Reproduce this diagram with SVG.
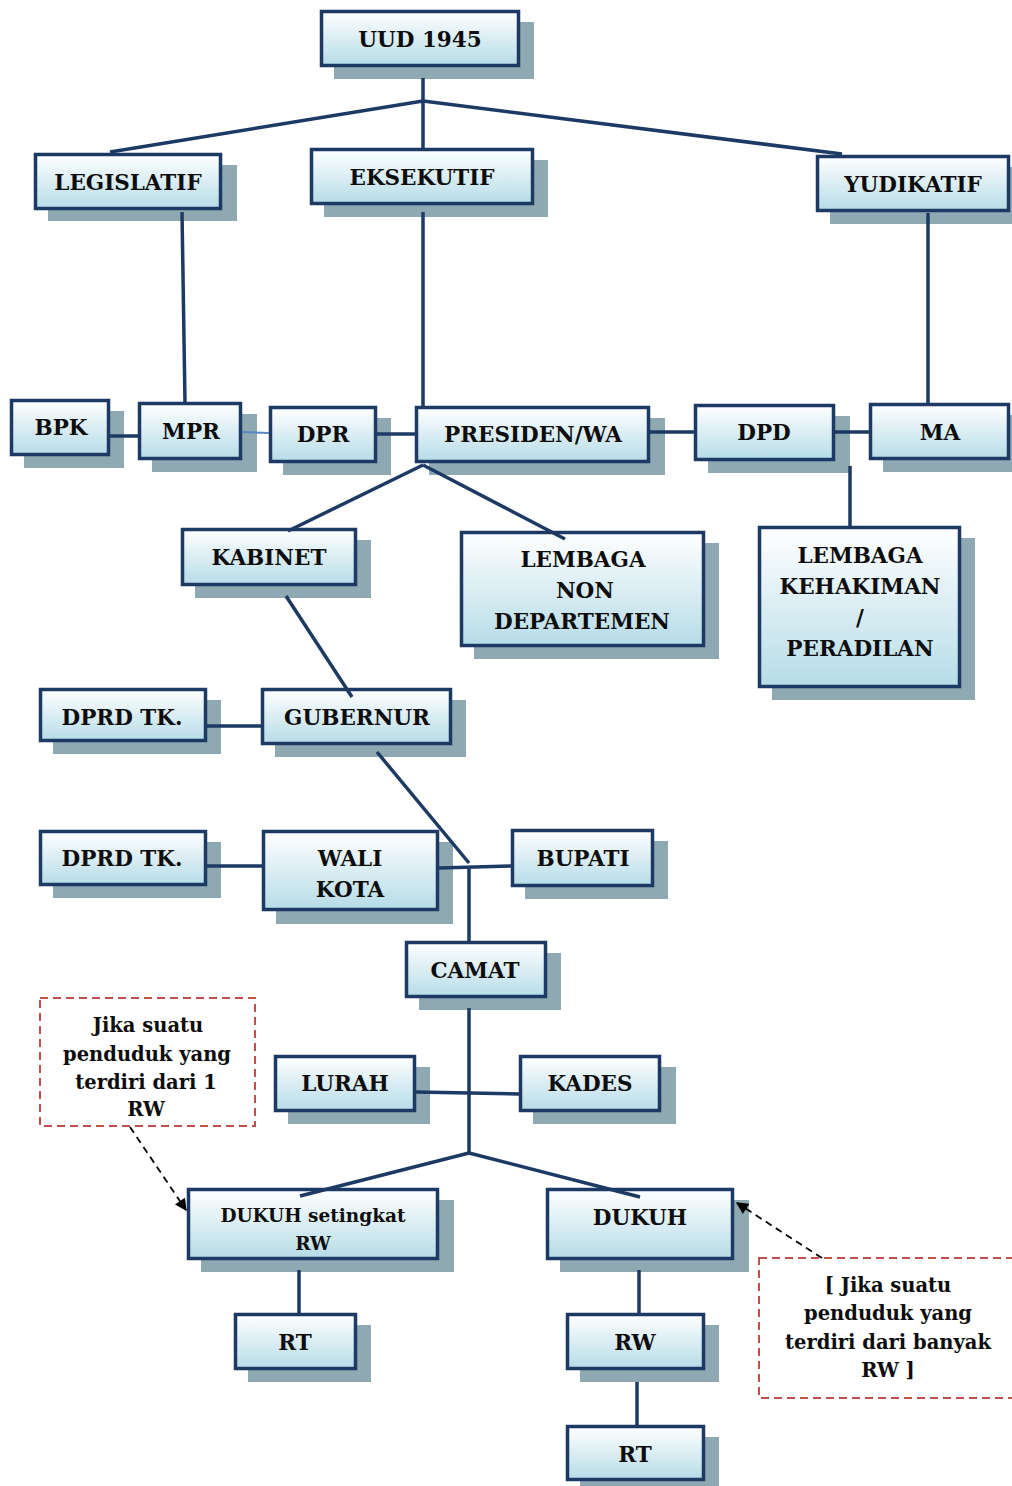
<svg xmlns="http://www.w3.org/2000/svg" width="1012" height="1486" viewBox="0 0 1012 1486">
<defs>
<linearGradient id="gr" x1="0" y1="0" x2="0" y2="1">
<stop offset="0" stop-color="#ffffff"/>
<stop offset="1" stop-color="#b6dce7"/>
</linearGradient>
<marker id="ah" viewBox="0 0 10 10" refX="9" refY="5" markerWidth="13" markerHeight="12" orient="auto" markerUnits="userSpaceOnUse">
<path d="M0,0 L10,5 L0,10 z" fill="#000"/>
</marker>
</defs>
<style>
.sh{fill:#8fa9b2}
.bx{fill:url(#gr);stroke:#1c3a64;stroke-width:3.5}
.t{font-family:"DejaVu Serif","Liberation Serif",serif;font-weight:bold;font-size:21.5px;fill:#0d0d0d;text-anchor:middle}
.s{font-size:18.5px}
.n{font-size:19.5px}
.c{stroke:#1c3a64;stroke-width:3.5;fill:none}
.dbox{fill:none;stroke:#c0504d;stroke-width:2;stroke-dasharray:8 5}
.da{stroke:#000;stroke-width:1.8;stroke-dasharray:7 5;fill:none}
</style>
<rect width="1012" height="1486" fill="#fff"/>

<g id="uud"><rect class="sh" x="334" y="22" width="200" height="57"/><rect class="bx" x="321.5" y="11.5" width="197" height="54"/><text class="t" x="420" y="47">UUD 1945</text></g>
<g id="legislatif"><rect class="sh" x="48" y="165" width="189" height="56"/><rect class="bx" x="35.5" y="154.5" width="185" height="54"/><text class="t" x="128" y="190">LEGISLATIF</text></g>
<g id="eksekutif"><rect class="sh" x="324" y="160" width="224" height="57"/><rect class="bx" x="311.5" y="149.5" width="221" height="54"/><text class="t" x="422" y="185">EKSEKUTIF</text></g>
<g id="yudikatif"><rect class="sh" x="830" y="167" width="182" height="57"/><rect class="bx" x="817.5" y="156.5" width="191" height="54"/><text class="t" x="913" y="192">YUDIKATIF</text></g>

<g id="bpk"><rect class="sh" x="24" y="411" width="100" height="57"/><rect class="bx" x="11.5" y="400.5" width="97" height="54"/><text class="t" x="61" y="435">BPK</text></g>
<g id="mpr"><rect class="sh" x="152" y="414" width="105" height="58"/><rect class="bx" x="139.5" y="403.5" width="101" height="55"/><text class="t" x="191" y="439">MPR</text></g>
<g id="dpr"><rect class="sh" x="283" y="418" width="108" height="57"/><rect class="bx" x="270.5" y="407.5" width="105" height="54"/><text class="t" x="323" y="442">DPR</text></g>
<g id="presiden"><rect class="sh" x="429" y="418" width="236" height="57"/><rect class="bx" x="416.5" y="407.5" width="232" height="54"/><text class="t" x="533" y="442">PRESIDEN/WA</text></g>
<g id="dpd"><rect class="sh" x="708" y="416" width="142" height="57"/><rect class="bx" x="695.5" y="405.5" width="138" height="54"/><text class="t" x="764" y="440">DPD</text></g>
<g id="ma"><rect class="sh" x="883" y="415" width="129" height="57"/><rect class="bx" x="870.5" y="404.5" width="138" height="54"/><text class="t" x="940" y="440">MA</text></g>

<g id="kabinet"><rect class="sh" x="195" y="540" width="176" height="58"/><rect class="bx" x="182.5" y="529.5" width="173" height="55"/><text class="t" x="269" y="565">KABINET</text></g>
<g id="lembaga-non"><rect class="sh" x="474" y="543" width="245" height="116"/><rect class="bx" x="461.5" y="532.5" width="242" height="113"/><text class="t" x="583" y="567">LEMBAGA</text><text class="t" x="585" y="598">NON</text><text class="t" x="582" y="629">DEPARTEMEN</text></g>
<g id="lembaga-kehakiman"><rect class="sh" x="772" y="538" width="203" height="162"/><rect class="bx" x="759.5" y="527.5" width="200" height="159"/><text class="t" x="860" y="563">LEMBAGA</text><text class="t" x="860" y="594">KEHAKIMAN</text><text class="t" x="860" y="625">/</text><text class="t" x="860" y="656">PERADILAN</text></g>

<g id="dprd1"><rect class="sh" x="53" y="700" width="168" height="54"/><rect class="bx" x="40.5" y="689.5" width="165" height="51"/><text class="t" x="122" y="725">DPRD TK.</text></g>
<g id="gubernur"><rect class="sh" x="275" y="700" width="191" height="57"/><rect class="bx" x="262.5" y="689.5" width="188" height="54"/><text class="t" x="357" y="725">GUBERNUR</text></g>
<g id="dprd2"><rect class="sh" x="53" y="842" width="168" height="56"/><rect class="bx" x="40.5" y="831.5" width="165" height="53"/><text class="t" x="122" y="866">DPRD TK.</text></g>
<g id="walikota"><rect class="sh" x="276" y="842" width="177" height="82"/><rect class="bx" x="263.5" y="831.5" width="174" height="78"/><text class="t" x="350" y="866">WALI</text><text class="t" x="350" y="897">KOTA</text></g>
<g id="bupati"><rect class="sh" x="525" y="841" width="143" height="58"/><rect class="bx" x="512.5" y="830.5" width="140" height="55"/><text class="t" x="583" y="866">BUPATI</text></g>
<g id="camat"><rect class="sh" x="419" y="953" width="142" height="57"/><rect class="bx" x="406.5" y="942.5" width="139" height="54"/><text class="t" x="475" y="978">CAMAT</text></g>
<g id="lurah"><rect class="sh" x="288" y="1067" width="142" height="57"/><rect class="bx" x="275.5" y="1056.5" width="139" height="54"/><text class="t" x="345" y="1091">LURAH</text></g>
<g id="kades"><rect class="sh" x="533" y="1067" width="143" height="57"/><rect class="bx" x="520.5" y="1056.5" width="139" height="54"/><text class="t" x="590" y="1091">KADES</text></g>

<g id="dukuh-rw"><rect class="sh" x="201" y="1200" width="253" height="72"/><rect class="bx" x="188.5" y="1189.5" width="249" height="69"/><text class="t s" x="313" y="1222">DUKUH setingkat</text><text class="t s" x="313" y="1250">RW</text></g>
<g id="dukuh"><rect class="sh" x="560" y="1200" width="189" height="72"/><rect class="bx" x="547.5" y="1189.5" width="185" height="69"/><text class="t" x="640" y="1225">DUKUH</text></g>
<g id="rt1"><rect class="sh" x="248" y="1325" width="123" height="57"/><rect class="bx" x="235.5" y="1314.5" width="120" height="54"/><text class="t" x="295" y="1350">RT</text></g>
<g id="rw"><rect class="sh" x="580" y="1325" width="139" height="57"/><rect class="bx" x="567.5" y="1314.5" width="136" height="54"/><text class="t" x="635" y="1350">RW</text></g>
<g id="rt2"><rect class="sh" x="580" y="1437" width="139" height="49"/><rect class="bx" x="567.5" y="1426.5" width="136" height="53"/><text class="t" x="635" y="1462">RT</text></g>

<g id="note-left"><rect class="dbox" x="40" y="998" width="215" height="128"/><text class="t n" x="148" y="1032">Jika suatu</text><text class="t n" x="147" y="1061">penduduk yang</text><text class="t n" x="146" y="1089">terdiri dari 1</text><text class="t n" x="146" y="1116">RW</text></g>
<g id="note-right"><rect class="dbox" x="759" y="1258" width="260" height="140"/><text class="t n" x="888" y="1292">[ Jika suatu</text><text class="t n" x="888" y="1320">penduduk yang</text><text class="t n" x="888" y="1349">terdiri dari banyak</text><text class="t n" x="888" y="1377">RW ]</text></g>

<g id="connectors">
<path class="c" d="M423,78 V149 M423,101 L110,152 M423,101 L842,154"/>
<path class="c" d="M182,212 L185,403"/>
<path class="c" d="M423,212 V407"/>
<path class="c" d="M928,213 V404"/>
<path class="c" d="M110,436 H138"/>
<path d="M242,432 L269,433" stroke="#5b87c0" stroke-width="2"/>
<path class="c" d="M377,434 H415"/>
<path class="c" d="M650,432 H694"/>
<path class="c" d="M835,432 H869"/>
<path class="c" d="M850,466 V527"/>
<path class="c" d="M423,465 L288,531 M423,465 L565,539"/>
<path class="c" d="M286,596 L352,697"/>
<path class="c" d="M207,726 H261"/>
<path class="c" d="M377,752 L469,863"/>
<path class="c" d="M439,868 L511,866 M469,866 V942"/>
<path class="c" d="M207,866 H262"/>
<path class="c" d="M469,1008 V1153"/>
<path class="c" d="M416,1092 L519,1094"/>
<path class="c" d="M469,1153 L300,1196 M469,1153 L640,1197"/>
<path class="c" d="M299,1270 V1313"/>
<path class="c" d="M639,1270 V1313"/>
<path class="c" d="M637,1382 V1425"/>
<path class="da" d="M130,1127 L186,1210" marker-end="url(#ah)"/>
<path class="da" d="M822,1258 L737,1203" marker-end="url(#ah)"/>
</g>
</svg>
